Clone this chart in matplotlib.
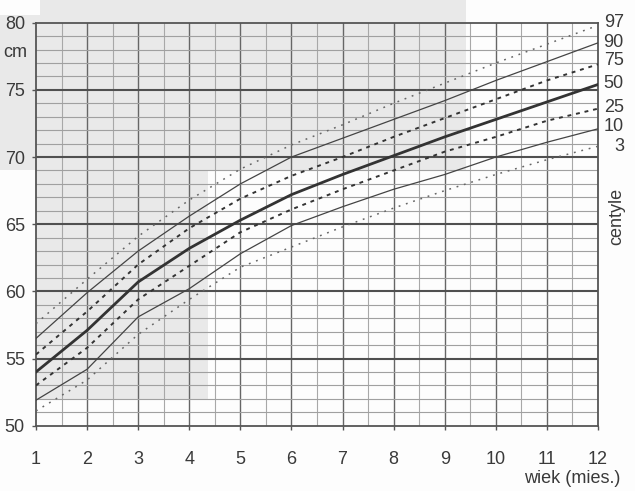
import matplotlib
matplotlib.use('Agg')
import matplotlib.pyplot as plt
from matplotlib.patches import Rectangle
import numpy as np

plt.rcParams['font.family'] = ['Liberation Sans', 'DejaVu Sans']

# months of age and centile curves (cm)
months = [1, 2, 3, 4, 5, 6, 7, 8, 9, 10, 11, 12]
c97 = [57.6, 60.9, 64.1, 66.8, 69.1, 70.9, 72.4, 74.0, 75.5, 77.0, 78.4, 79.8]
c90 = [56.5, 59.9, 63.0, 65.6, 68.0, 70.0, 71.4, 72.8, 74.2, 75.7, 77.1, 78.5]
c75 = [55.3, 58.5, 62.0, 64.7, 66.9, 68.6, 70.0, 71.5, 72.9, 74.3, 75.7, 76.9]
c50 = [54.0, 57.1, 60.7, 63.2, 65.3, 67.2, 68.7, 70.1, 71.5, 72.8, 74.1, 75.4]
c25 = [53.0, 55.8, 59.4, 61.9, 64.4, 66.1, 67.6, 69.0, 70.4, 71.5, 72.7, 73.6]
c10 = [51.9, 54.2, 58.1, 60.2, 62.8, 64.9, 66.3, 67.6, 68.7, 70.0, 71.1, 72.1]
c3 = [51.1, 53.4, 56.8, 59.4, 61.8, 63.3, 64.8, 66.2, 67.5, 68.7, 69.8, 70.8]

centile_names = ['97', '90', '75', '50', '25', '10', '3']
x_ticks = list(range(1, 13))
y_ticks = [50, 55, 60, 65, 70, 75, 80]

W, H = 635, 491
fig = plt.figure(figsize=(W / 100, H / 100), dpi=100)
fig.patch.set_facecolor('#fdfdfd')


def px_rect(x0, y0, x1, y1):
    # rectangle given in pixels from the top-left corner
    return Rectangle((x0 / W, 1 - y1 / H), (x1 - x0) / W, (y1 - y0) / H,
                     transform=fig.transFigure, facecolor='#e9e9e9',
                     edgecolor='none', zorder=-5)


# light grey areas of the scanned sheet
fig.patches.append(px_rect(40, 0, 466, 170))
fig.patches.append(px_rect(0, 15, 40, 170))
fig.patches.append(px_rect(36, 170, 208, 400))

ax = fig.add_axes([36 / W, 1 - 425.7 / H, (598 - 36) / W, (425.7 - 22.7) / H])
ax.set_zorder(2)
ax.set_facecolor('none')
ax.set_xlim(1, 12)
ax.set_ylim(50, 80)

# grid
for m in np.arange(1.5, 12, 1.0):
    ax.axvline(m, color='#a8a8a8', lw=0.8, zorder=1)
for m in x_ticks[1:-1]:
    ax.axvline(m, color='#666666', lw=1.0, zorder=1)
for v in range(51, 80):
    if v % 5:
        ax.axhline(v, color='#a0a0a0', lw=0.8, zorder=1)
for v in y_ticks[1:-1]:
    ax.axhline(v, color='#505050', lw=1.5, zorder=1)

for side in ['left', 'bottom', 'right', 'top']:
    ax.spines[side].set_color('#555555')
    ax.spines[side].set_linewidth(1.3)

# curves
dot = (0, (1.2, 3.8))
dash = (0, (2.0, 2.5))
ax.plot(months, c97, color='#666666', lw=1.1, linestyle=dot, zorder=3)
ax.plot(months, c90, color='#444444', lw=0.9, zorder=3)
ax.plot(months, c75, color='#333333', lw=1.4, linestyle=dash, zorder=3)
ax.plot(months, c50, color='#333333', lw=2.0, zorder=3)
ax.plot(months, c25, color='#333333', lw=1.4, linestyle=dash, zorder=3)
ax.plot(months, c10, color='#444444', lw=0.9, zorder=3)
ax.plot(months, c3, color='#666666', lw=1.1, linestyle=dot, zorder=3)

txt = '#3a3a3a'
ax.set_xticks(x_ticks)
ax.set_yticks(y_ticks)
ax.tick_params(axis='x', length=3, width=1, color='#555555', pad=15,
               labelsize=13, labelcolor=txt)
ax.tick_params(axis='y', length=3, width=1, color='#555555', pad=5,
               labelsize=13, labelcolor=txt)

ax.text(-0.015, 0.925, 'cm', transform=ax.transAxes, ha='right', va='center',
        fontsize=13, color=txt)
ax.text(1.04, -0.13, 'wiek (mies.)', transform=ax.transAxes, ha='right',
        va='center', fontsize=13, color=txt)

# centile labels on the right
ends = [c97[-1] + 0.25, c90[-1], c75[-1] + 0.3, c50[-1] + 0.1,
        c25[-1] + 0.1, c10[-1] + 0.15, c3[-1]]
for name, y in zip(centile_names, ends):
    ax.text(1.046, y, name, transform=ax.get_yaxis_transform(), ha='right',
            va='center', fontsize=13, color=txt)
ax.text(1.033, 0.52, 'centyle', transform=ax.transAxes, rotation=90,
        ha='center', va='center', fontsize=13, color=txt)

fig.savefig('out.png', dpi=100, facecolor=fig.get_facecolor())
